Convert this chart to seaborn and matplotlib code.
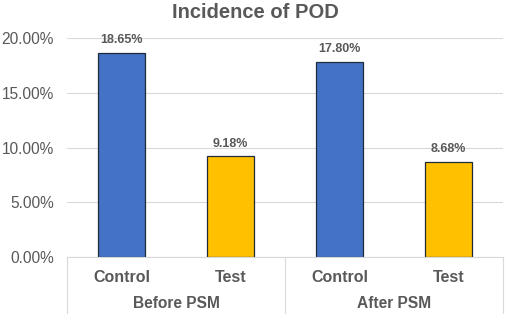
import pandas as pd
import matplotlib
matplotlib.use("Agg")
import matplotlib.pyplot as plt
from matplotlib.ticker import FuncFormatter, MultipleLocator
import seaborn as sns

# Data
phases = ["Before PSM", "Before PSM", "After PSM", "After PSM"]
groups = ["Control", "Test", "Control", "Test"]
incidence = [18.65, 9.18, 17.80, 8.68]
phase_labels = ["Before PSM", "After PSM"]

colors = {"Control": "#4472C4", "Test": "#FFC000"}
text_color = "#595959"
line_color = "#D9D9D9"

df = pd.DataFrame({"phase": phases, "group": groups, "value": incidence})
df["key"] = [f"{p}|{g}" for p, g in zip(phases, groups)]

sns.set_style("white")
plt.rcParams["font.family"] = ["Liberation Sans", "DejaVu Sans"]

fig = plt.figure(figsize=(5.05, 3.14), dpi=100)
ax = fig.add_axes([67 / 505, 1 - 257 / 314, 436 / 505, 219 / 314])

sns.barplot(data=df, x="key", y="value", hue="group", palette=colors,
            order=list(df["key"]), dodge=False, width=0.44, saturation=1,
            edgecolor="#1F2A3A", linewidth=0.9, legend=False, ax=ax)

for c in ax.containers:
    ax.bar_label(c, labels=[f"{v:.2f}%" if v == v else "" for v in c.datavalues],
                 padding=5, fontsize=9, fontweight="bold", color=text_color)

ax.set_xlim(-0.5, len(groups) - 0.5)
ax.set_ylim(0, 20)
ax.yaxis.set_major_locator(MultipleLocator(5))
ax.yaxis.set_major_formatter(FuncFormatter(lambda v, _: f"{v:.2f}%"))
ax.grid(axis="y", color=line_color, linewidth=0.8)
ax.set_axisbelow(True)
ax.tick_params(axis="y", length=0, pad=9.5, labelsize=11.2, labelcolor=text_color)
ax.tick_params(axis="x", length=0, pad=9)
ax.set_xticks(range(len(groups)))
ax.set_xticklabels(groups, fontsize=11.5, fontweight="bold", color=text_color)
ax.set_xlabel("")
ax.set_ylabel("")
for s in ["top", "right", "left"]:
    ax.spines[s].set_visible(False)
ax.spines["bottom"].set_color(line_color)
ax.spines["bottom"].set_linewidth(0.8)

# Multi-level category axis: group labels and separators
depth = -57 / 219
for xpos in [0, 0.5, 1]:
    ax.plot([xpos, xpos], [0, depth], transform=ax.transAxes, color=line_color,
            linewidth=0.8, clip_on=False)
for i, lab in enumerate(phase_labels):
    ax.text(0.25 + 0.5 * i, -47 / 219, lab, transform=ax.transAxes, ha="center",
            va="center", fontsize=11.2, fontweight="bold", color=text_color)

fig.text(255 / 505, 1 - 13 / 314, "Incidence of POD", ha="center", va="center",
         fontsize=14.5, fontweight="bold", color=text_color)

fig.savefig("out.png", dpi=100)
